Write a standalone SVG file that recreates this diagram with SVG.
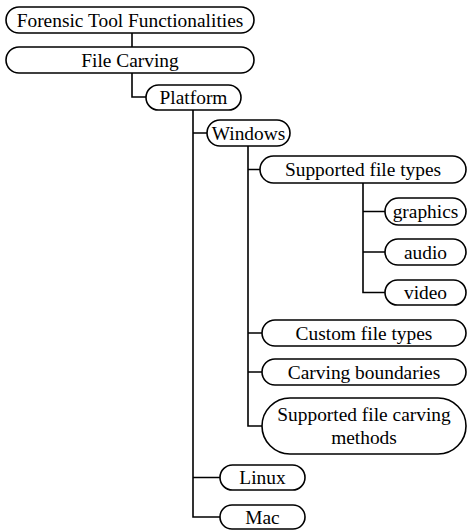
<svg xmlns="http://www.w3.org/2000/svg" width="469" height="531" viewBox="0 0 469 531">
<style>
.n rect{fill:#fff;stroke:#000;stroke-width:1.6}
.n text{font-family:'Liberation Serif','Times New Roman',serif;font-size:19.4px;fill:#000;text-anchor:middle}
.c path{fill:none;stroke:#000;stroke-width:1.6}
</style>
<rect width="469" height="531" fill="#fff"/>
<g class="c" id="connectors">
<path d="M132,33V47"/>
<path d="M132,73V97H146"/>
<path d="M193,110V517H220M193,133H207M193,477.5H220"/>
<path d="M248,146V426H262M248,169.5H260M248,333H262M248,372H262"/>
<path d="M363,183V292.5H385M363,211.5H385M363,252H385"/>
</g>
<g class="n" id="n-forensic"><rect x="6" y="7" width="248" height="26" rx="13"/><text x="130" y="26.5">Forensic Tool Functionalities</text></g>
<g class="n" id="n-filecarving"><rect x="6" y="47" width="248" height="26" rx="13"/><text x="130" y="66.5">File Carving</text></g>
<g class="n" id="n-platform"><rect x="146" y="85" width="95" height="25" rx="12.5"/><text x="193.5" y="104">Platform</text></g>
<g class="n" id="n-windows"><rect x="207" y="120" width="83" height="26" rx="13"/><text x="248.5" y="139.5">Windows</text></g>
<g class="n" id="n-supported"><rect x="260" y="156" width="206" height="27" rx="13.5"/><text x="363" y="176">Supported file types</text></g>
<g class="n" id="n-graphics"><rect x="385" y="198" width="81" height="27" rx="13.5"/><text x="425.5" y="218">graphics</text></g>
<g class="n" id="n-audio"><rect x="385" y="239" width="81" height="26" rx="13"/><text x="425.5" y="258.5">audio</text></g>
<g class="n" id="n-video"><rect x="385" y="280" width="81" height="25" rx="12.5"/><text x="425.5" y="299">video</text></g>
<g class="n" id="n-custom"><rect x="262" y="320" width="204" height="26" rx="13"/><text x="364" y="339.5">Custom file types</text></g>
<g class="n" id="n-boundaries"><rect x="262" y="359" width="204" height="26" rx="13"/><text x="364" y="378.5">Carving boundaries</text></g>
<g class="n" id="n-methods"><rect x="262" y="398" width="204" height="56" rx="28"/><text x="364" y="421">Supported file carving</text><text x="364" y="444">methods</text></g>
<g class="n" id="n-linux"><rect x="220" y="465" width="85" height="25" rx="12.5"/><text x="262.5" y="484">Linux</text></g>
<g class="n" id="n-mac"><rect x="220" y="505" width="85" height="24" rx="12"/><text x="262.5" y="523.5">Mac</text></g>
</svg>
